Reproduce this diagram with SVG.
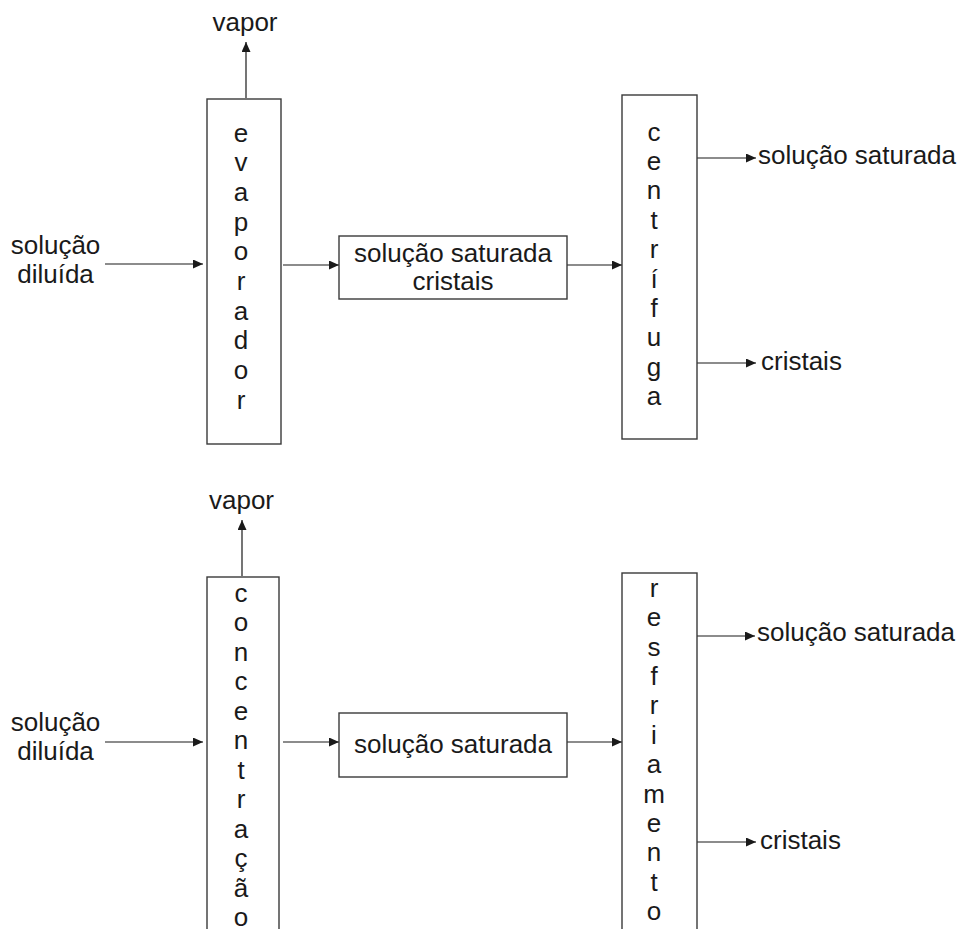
<svg xmlns="http://www.w3.org/2000/svg" width="962" height="929" viewBox="0 0 962 929">
<defs>
<marker id="ah" markerUnits="userSpaceOnUse" markerWidth="11" markerHeight="10" refX="10" refY="4.5" orient="auto">
<path d="M0,0 L10,4.5 L0,9 z" fill="#1a1a1a"/>
</marker>
</defs>
<style>
.box{fill:#fff;stroke:#3a3a3a;stroke-width:1.4}
.ln{fill:none;stroke:#1a1a1a;stroke-width:1.2;marker-end:url(#ah)}
text{font-family:"Liberation Sans",Arial,sans-serif;font-size:26px;fill:#1a1a1a}
.c{text-anchor:middle}
</style>
<rect width="962" height="929" fill="#fff"/>

<g id="connectors">
<line class="ln" x1="246" y1="98" x2="246" y2="42"/>
<line class="ln" x1="105" y1="264" x2="203" y2="264"/>
<line class="ln" x1="283" y1="265" x2="339" y2="265"/>
<line class="ln" x1="567" y1="265" x2="622" y2="265"/>
<line class="ln" x1="697" y1="158" x2="756" y2="158"/>
<line class="ln" x1="697" y1="363" x2="756" y2="363"/>

<line class="ln" x1="242" y1="576" x2="242" y2="520"/>
<line class="ln" x1="105" y1="742" x2="203" y2="742"/>
<line class="ln" x1="283" y1="742" x2="339" y2="742"/>
<line class="ln" x1="567" y1="742" x2="622" y2="742"/>
<line class="ln" x1="697" y1="636" x2="755" y2="636"/>
<line class="ln" x1="697" y1="842" x2="756" y2="842"/>
</g>

<g id="top-vapor"><text class="c" x="245" y="31">vapor</text></g>
<g id="top-input"><text class="c" x="55.5" y="254">solução</text><text class="c" x="55.5" y="283">diluída</text></g>

<g id="evaporador">
<rect class="box" x="207" y="99" width="74" height="345"/>
<text class="c" x="241" y="141.5"><tspan x="241">e</tspan><tspan x="241" dy="29.7">v</tspan><tspan x="241" dy="29.7">a</tspan><tspan x="241" dy="29.7">p</tspan><tspan x="241" dy="29.7">o</tspan><tspan x="241" dy="29.7">r</tspan><tspan x="241" dy="29.7">a</tspan><tspan x="241" dy="29.7">d</tspan><tspan x="241" dy="29.7">o</tspan><tspan x="241" dy="29.7">r</tspan></text>
</g>

<g id="mistura">
<rect class="box" x="339" y="236" width="228" height="63"/>
<text class="c" x="453" y="261.5">solução saturada</text>
<text class="c" x="453" y="290">cristais</text>
</g>

<g id="centrifuga">
<rect class="box" x="622" y="95" width="75" height="344"/>
<text class="c" x="654" y="140.5"><tspan x="654">c</tspan><tspan x="654" dy="29.4">e</tspan><tspan x="654" dy="29.4">n</tspan><tspan x="654" dy="29.4">t</tspan><tspan x="654" dy="29.4">r</tspan><tspan x="654" dy="29.4">í</tspan><tspan x="654" dy="29.4">f</tspan><tspan x="654" dy="29.4">u</tspan><tspan x="654" dy="29.4">g</tspan><tspan x="654" dy="29.4">a</tspan></text>
</g>

<g id="top-out1"><text x="758" y="163.5">solução saturada</text></g>
<g id="top-out2"><text x="761" y="370">cristais</text></g>

<g id="bottom-vapor"><text class="c" x="241.5" y="508.5">vapor</text></g>
<g id="bottom-input"><text class="c" x="55.5" y="731">solução</text><text class="c" x="55.5" y="760">diluída</text></g>

<g id="concentracao">
<rect class="box" x="207" y="577" width="72" height="370"/>
<text class="c" x="241" y="601.7"><tspan x="241">c</tspan><tspan x="241" dy="29.5">o</tspan><tspan x="241" dy="29.5">n</tspan><tspan x="241" dy="29.5">c</tspan><tspan x="241" dy="29.5">e</tspan><tspan x="241" dy="29.5">n</tspan><tspan x="241" dy="29.5">t</tspan><tspan x="241" dy="29.5">r</tspan><tspan x="241" dy="29.5">a</tspan><tspan x="241" dy="29.5">ç</tspan><tspan x="241" dy="29.5">ã</tspan><tspan x="241" dy="29.5">o</tspan></text>
</g>

<g id="saturada">
<rect class="box" x="339" y="713" width="228" height="64"/>
<text class="c" x="453" y="752.5">solução saturada</text>
</g>

<g id="resfriamento">
<rect class="box" x="622" y="573" width="75" height="370"/>
<text class="c" x="654" y="596.7"><tspan x="654">r</tspan><tspan x="654" dy="29.4">e</tspan><tspan x="654" dy="29.4">s</tspan><tspan x="654" dy="29.4">f</tspan><tspan x="654" dy="29.4">r</tspan><tspan x="654" dy="29.4">i</tspan><tspan x="654" dy="29.4">a</tspan><tspan x="654" dy="29.4">m</tspan><tspan x="654" dy="29.4">e</tspan><tspan x="654" dy="29.4">n</tspan><tspan x="654" dy="29.4">t</tspan><tspan x="654" dy="29.4">o</tspan></text>
</g>

<g id="bottom-out1"><text x="757" y="640.5">solução saturada</text></g>
<g id="bottom-out2"><text x="760" y="848.5">cristais</text></g>
</svg>
